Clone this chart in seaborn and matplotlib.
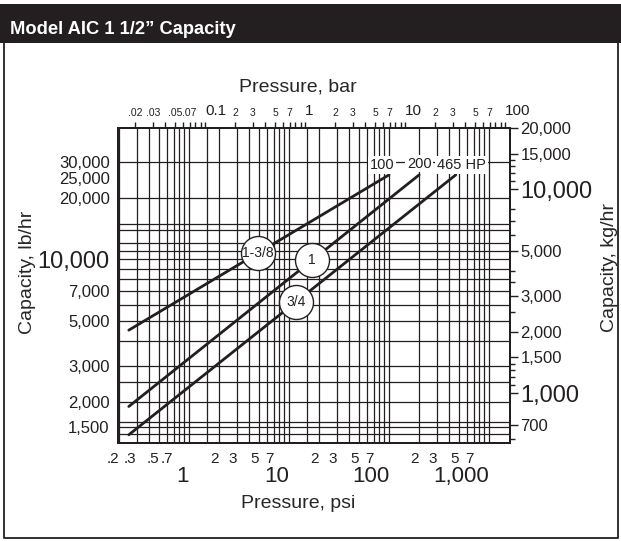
import numpy as np
import pandas as pd
import matplotlib
matplotlib.use("Agg")
import matplotlib.pyplot as plt
from matplotlib.ticker import FixedLocator, FixedFormatter, NullFormatter, NullLocator
import seaborn as sns

# orifice lines: pressure (psi) vs capacity (lb/hr)
sizes = ["1-3/8", "1", "3/4"]
psi_start = [0.25, 0.25, 0.25]
psi_end = [100, 200, 465]
lbhr_start = [4500, 1900, 1380]
lbhr_end = [26000, 26000, 26000]
end_text = ["100", "200", "465 HP"]
circle_psi = [4.9, 16.9, 11.7]

# grid lines drawn on the chart
psi_grid = [0.2, 0.3, 0.4, 0.5, 0.6, 0.7, 0.8, 0.9, 1, 1.5, 2, 3, 4, 5, 6, 7, 8, 9,
            10, 15, 20, 30, 40, 50, 60, 70, 80, 90, 100, 200, 300, 400, 500, 600,
            700, 800, 900, 1000]
lbhr_grid = [1400, 1500, 1600, 2000, 2500, 3000, 4000, 5000, 6000, 7000, 8000, 9000,
             10000, 11000, 12000, 14000, 15000, 20000, 30000]

# tick labels
psi_major = [1, 10, 100, 1000]
psi_major_lbl = ["1", "10", "100", "1,000"]
psi_minor = [0.2, 0.3, 0.5, 0.7, 2, 3, 5, 7, 20, 30, 50, 70, 200, 300, 500, 700]
psi_minor_lbl = [".2", ".3", ".5", ".7", "2", "3", "5", "7", "2", "3", "5", "7",
                 "2", "3", "5", "7"]
bar_major = [0.1, 1, 10, 100]
bar_major_lbl = ["0.1", "1", "10", "100"]
bar_minor = [0.02, 0.03, 0.04, 0.05, 0.06, 0.07, 0.08, 0.09,
             0.2, 0.3, 0.4, 0.5, 0.6, 0.7, 0.8, 0.9,
             2, 3, 4, 5, 6, 7, 8, 9,
             20, 30, 40, 50, 60, 70, 80, 90]
bar_minor_lbl = [".02", ".03", "", ".05", "", ".07", "", "",
                 "2", "3", "", "5", "", "7", "", "",
                 "2", "3", "", "5", "", "7", "", "",
                 "2", "3", "", "5", "", "7", "", ""]
lbhr_ticks = [1500, 2000, 3000, 5000, 7000, 10000, 20000, 25000, 30000]
lbhr_lbl = ["1,500", "2,000", "3,000", "5,000", "7,000", "10,000", "20,000", "25,000", "30,000"]
kghr_ticks = [700, 1000, 1500, 2000, 3000, 5000, 10000, 15000, 20000]
kghr_lbl = ["700", "1,000", "1,500", "2,000", "3,000", "5,000", "10,000", "15,000", "20,000"]
kghr_minor = [600, 1100, 1200, 1300, 1400, 2500, 3500, 4000, 6000, 7000, 8000,
              11000, 12000, 13000, 14000]

PSI_PER_BAR = 14.5
KG_PER_LB = 0.4536
psi_lim = (0.195, 1620)
lbhr_lim = (1265, 44150)

ink = "#231f20"

sns.set_style("ticks")
plt.rcParams["font.family"] = ["Liberation Sans", "DejaVu Sans"]
plt.rcParams["axes.edgecolor"] = ink
plt.rcParams["text.color"] = ink
plt.rcParams["xtick.color"] = ink
plt.rcParams["ytick.color"] = ink

rows = []
for s, p0, p1, c0, c1 in zip(sizes, psi_start, psi_end, lbhr_start, lbhr_end):
    rows.append({"size": s, "psi": p0, "lbhr": c0})
    rows.append({"size": s, "psi": p1, "lbhr": c1})
df = pd.DataFrame(rows)

fig = plt.figure(figsize=(6.21, 5.41), dpi=100)
ax = fig.add_axes([118 / 621, (541 - 442.5) / 541, 392 / 621, 314.5 / 541])
ax.set_xscale("log")
ax.set_yscale("log")

sns.lineplot(data=df, x="psi", y="lbhr", units="size", estimator=None,
             color=ink, lw=2.0, legend=False, ax=ax, zorder=3)

ax.set_xlim(psi_lim)
ax.set_ylim(lbhr_lim)

# the dense chart grid
ax.vlines(psi_grid, 0, 1, transform=ax.get_xaxis_transform(), color=ink, lw=0.9, zorder=1)
ax.hlines(lbhr_grid, 0, 1, transform=ax.get_yaxis_transform(), color=ink, lw=0.9, zorder=1)

# circled orifice sizes on each line
for s, p0, p1, c0, c1, cp in zip(sizes, psi_start, psi_end, lbhr_start, lbhr_end, circle_psi):
    cy = 10 ** np.interp(np.log10(cp), np.log10([p0, p1]), np.log10([c0, c1]))
    ax.scatter([cp], [cy], s=600, marker="o", facecolor="white", edgecolor=ink,
               lw=1.0, zorder=4)
    ax.text(cp, cy, s, ha="center", va="center", fontsize=10, zorder=5)

# HP ratings at the line ends
offsets = {"100": (-5, 2), "200": (0, 3), "465 HP": (4, 2)}
for t, p1, c1 in zip(end_text, psi_end, lbhr_end):
    ax.annotate(t, xy=(p1, c1), xytext=offsets[t], textcoords="offset points",
                ha="center", va="bottom", fontsize=10.5, zorder=5,
                bbox=dict(boxstyle="square,pad=0.12", fc="white", ec="none"))

# bottom psi axis
ax.xaxis.set_major_locator(FixedLocator(psi_major))
ax.xaxis.set_major_formatter(FixedFormatter(psi_major_lbl))
ax.xaxis.set_minor_locator(FixedLocator(psi_minor))
ax.xaxis.set_minor_formatter(FixedFormatter(psi_minor_lbl))
ax.tick_params(axis="x", which="major", length=0, pad=17, labelsize=16)
ax.tick_params(axis="x", which="minor", length=0, pad=7, labelsize=11)
ax.set_xlabel("Pressure, psi", fontsize=14, labelpad=6)
ax.xaxis.label.set_x(0.46)

# left lb/hr axis
ax.yaxis.set_major_locator(FixedLocator(lbhr_ticks))
ax.yaxis.set_major_formatter(FixedFormatter(lbhr_lbl))
ax.yaxis.set_minor_locator(NullLocator())
ax.tick_params(axis="y", which="major", length=0, pad=6, labelsize=12)
ax.set_ylabel("Capacity, lb/hr", fontsize=14, labelpad=1)
ax.yaxis.label.set_y(0.54)

# top bar axis
ax_t = ax.twiny()
ax_t.set_xscale("log")
ax_t.set_xlim(psi_lim[0] / PSI_PER_BAR, psi_lim[1] / PSI_PER_BAR)
ax_t.xaxis.set_major_locator(FixedLocator(bar_major))
ax_t.xaxis.set_major_formatter(FixedFormatter(bar_major_lbl))
ax_t.xaxis.set_minor_locator(FixedLocator(bar_minor))
ax_t.xaxis.set_minor_formatter(FixedFormatter(bar_minor_lbl))
ax_t.tick_params(axis="x", which="both", direction="out", length=4.3, width=1, pad=3)
ax_t.tick_params(axis="x", which="major", labelsize=11)
ax_t.tick_params(axis="x", which="minor", labelsize=7.5)
ax_t.set_xlabel("Pressure, bar", fontsize=14, labelpad=9)
ax_t.xaxis.label.set_x(0.46)

# right kg/hr axis
ax_r = ax.twinx()
ax_r.set_yscale("log")
ax_r.set_ylim(lbhr_lim[0] * KG_PER_LB, lbhr_lim[1] * KG_PER_LB)
ax_r.yaxis.set_major_locator(FixedLocator(kghr_ticks))
ax_r.yaxis.set_major_formatter(FixedFormatter(kghr_lbl))
ax_r.yaxis.set_minor_locator(FixedLocator(kghr_minor))
ax_r.yaxis.set_minor_formatter(NullFormatter())
ax_r.tick_params(axis="y", which="major", direction="out", length=6, width=1, pad=1.5, labelsize=12)
ax_r.tick_params(axis="y", which="minor", direction="out", length=3.5, width=1)
ax_r.set_ylabel("Capacity, kg/hr", fontsize=14, labelpad=6)
ax_r.yaxis.label.set_y(0.555)

for a in (ax, ax_t, ax_r):
    for sp in a.spines.values():
        sp.set_linewidth(1.3)
        sp.set_color(ink)

# big decade labels on the capacity scales; pressure labels sit to one side of their line
fig.canvas.draw()
for lbl in ax.get_yticklabels() + ax_r.get_yticklabels():
    if lbl.get_text() in ("10,000", "1,000"):
        lbl.set_fontsize(17)
plt.setp(ax.get_xticklabels(which="both"), ha="right")
plt.setp(ax_t.get_xticklabels(which="major"), ha="left")

# title band and outer frame
fig.patches.append(plt.Rectangle((0, 1 - 43 / 541), 1, 39 / 541, transform=fig.transFigure,
                                 facecolor=ink, edgecolor="none", zorder=0))
fig.text(10 / 621, 1 - 33.5 / 541, "Model AIC 1 1/2\u201d Capacity", color="white",
         fontsize=13.2, fontweight="bold", va="baseline", ha="left")
fig.lines.append(plt.Line2D([3.5 / 621, 3.5 / 621, 617.5 / 621, 617.5 / 621],
                            [1 - 43 / 541, 1 - 538 / 541, 1 - 538 / 541, 1 - 43 / 541],
                            transform=fig.transFigure, color=ink, lw=1.3))

fig.savefig("out.png", dpi=100)
